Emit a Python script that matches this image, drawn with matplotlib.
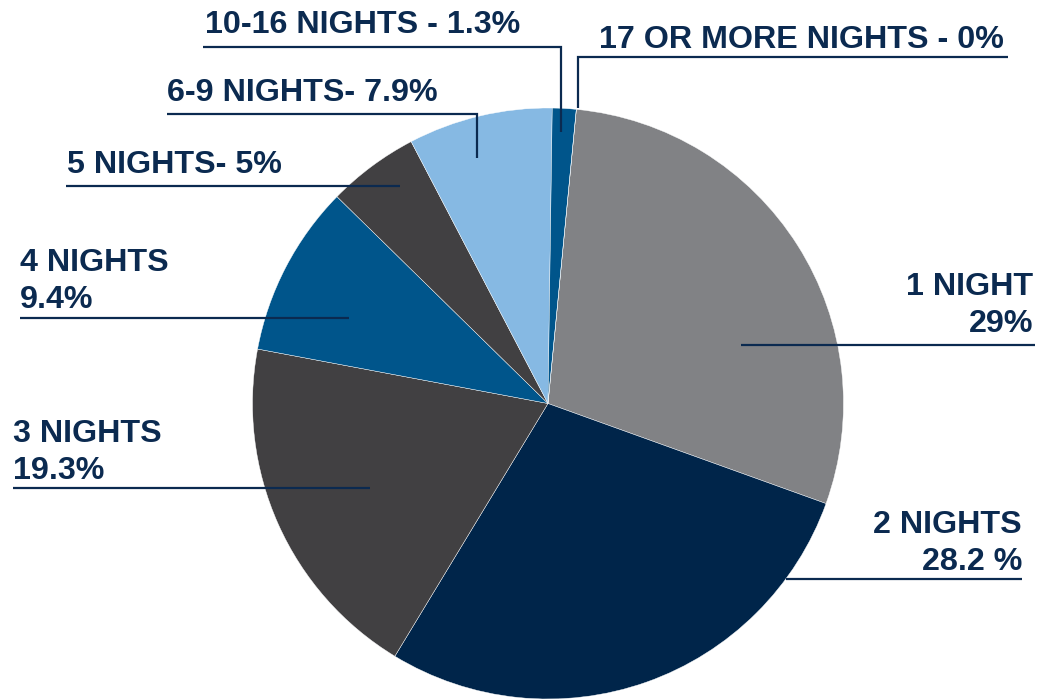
#!/usr/bin/env python3
"""
Pie chart of length of stay (nights) with labelled leader lines.
"""

import matplotlib
matplotlib.use("Agg")
import matplotlib.pyplot as plt

# Share of stays by length, clockwise from the top.
categories = [
    "1 NIGHT", "2 NIGHTS", "3 NIGHTS", "4 NIGHTS", "5 NIGHTS",
    "6-9 NIGHTS", "10-16 NIGHTS", "17 OR MORE NIGHTS",
]
shares = [29.0, 28.2, 19.3, 9.4, 5.0, 7.9, 1.3, 0.0]
label_texts = [
    "1 NIGHT\n29%",
    "2 NIGHTS\n28.2 %",
    "3 NIGHTS\n19.3%",
    "4 NIGHTS\n9.4%",
    "5 NIGHTS- 5%",
    "6-9 NIGHTS- 7.9%",
    "10-16 NIGHTS - 1.3%",
    "17 OR MORE NIGHTS - 0%",
]

COLORS = ["#818285", "#00254a", "#414042", "#00558b",
          "#414042", "#86b9e3", "#00558b", "#00558b"]
TEXT_COLOR = "#0b2a50"

W, H = 1037, 700

# Label layout in pixel coords (y measured from the top):
# text x, baseline y of last line, alignment, leader-line path.
LAYOUT = [
    (1033, 332, "right", [(741, 345), (1035, 345)]),
    (1022, 570, "right", [(786, 579), (1022, 579)]),
    (13, 479, "left", [(13, 488), (370, 488)]),
    (20, 308, "left", [(20, 318), (349, 318)]),
    (67, 173, "left", [(66, 186), (400, 186)]),
    (167, 101, "left", [(167, 114), (477, 114), (477, 158)]),
    (205, 33, "left", [(203, 47), (561, 47), (561, 132)]),
    (599, 48, "left", [(578, 108), (578, 57), (1008, 57)]),
]


def main() -> None:
    plt.rcParams["font.family"] = ["Liberation Sans", "DejaVu Sans"]

    fig = plt.figure(figsize=(W / 100, H / 100), dpi=100)
    ax = fig.add_axes([0, 0, 1, 1])

    # Slices run clockwise; the first one starts just right of 12 o'clock.
    ax.pie(
        shares,
        colors=COLORS,
        startangle=84.5,
        counterclock=False,
        center=(548, H - 403.5),
        radius=295.5,
        wedgeprops=dict(edgecolor="white", linewidth=0.3),
        frame=True,
    )
    ax.set_xlim(0, W)
    ax.set_ylim(0, H)
    ax.set_aspect("equal")
    ax.axis("off")

    line_gap = 37
    for text, (tx, ty, ha, path) in zip(label_texts, LAYOUT):
        lines = text.split("\n")
        for i, line in enumerate(reversed(lines)):
            ax.text(tx, H - (ty - i * line_gap), line, ha=ha, va="baseline",
                    fontsize=23.2, fontweight="bold", color=TEXT_COLOR)
        xs = [p[0] for p in path]
        ys = [H - p[1] for p in path]
        ax.plot(xs, ys, color=TEXT_COLOR, linewidth=1.6,
                solid_capstyle="butt", solid_joinstyle="miter")

    fig.savefig("out.png", dpi=100)


if __name__ == "__main__":
    main()
